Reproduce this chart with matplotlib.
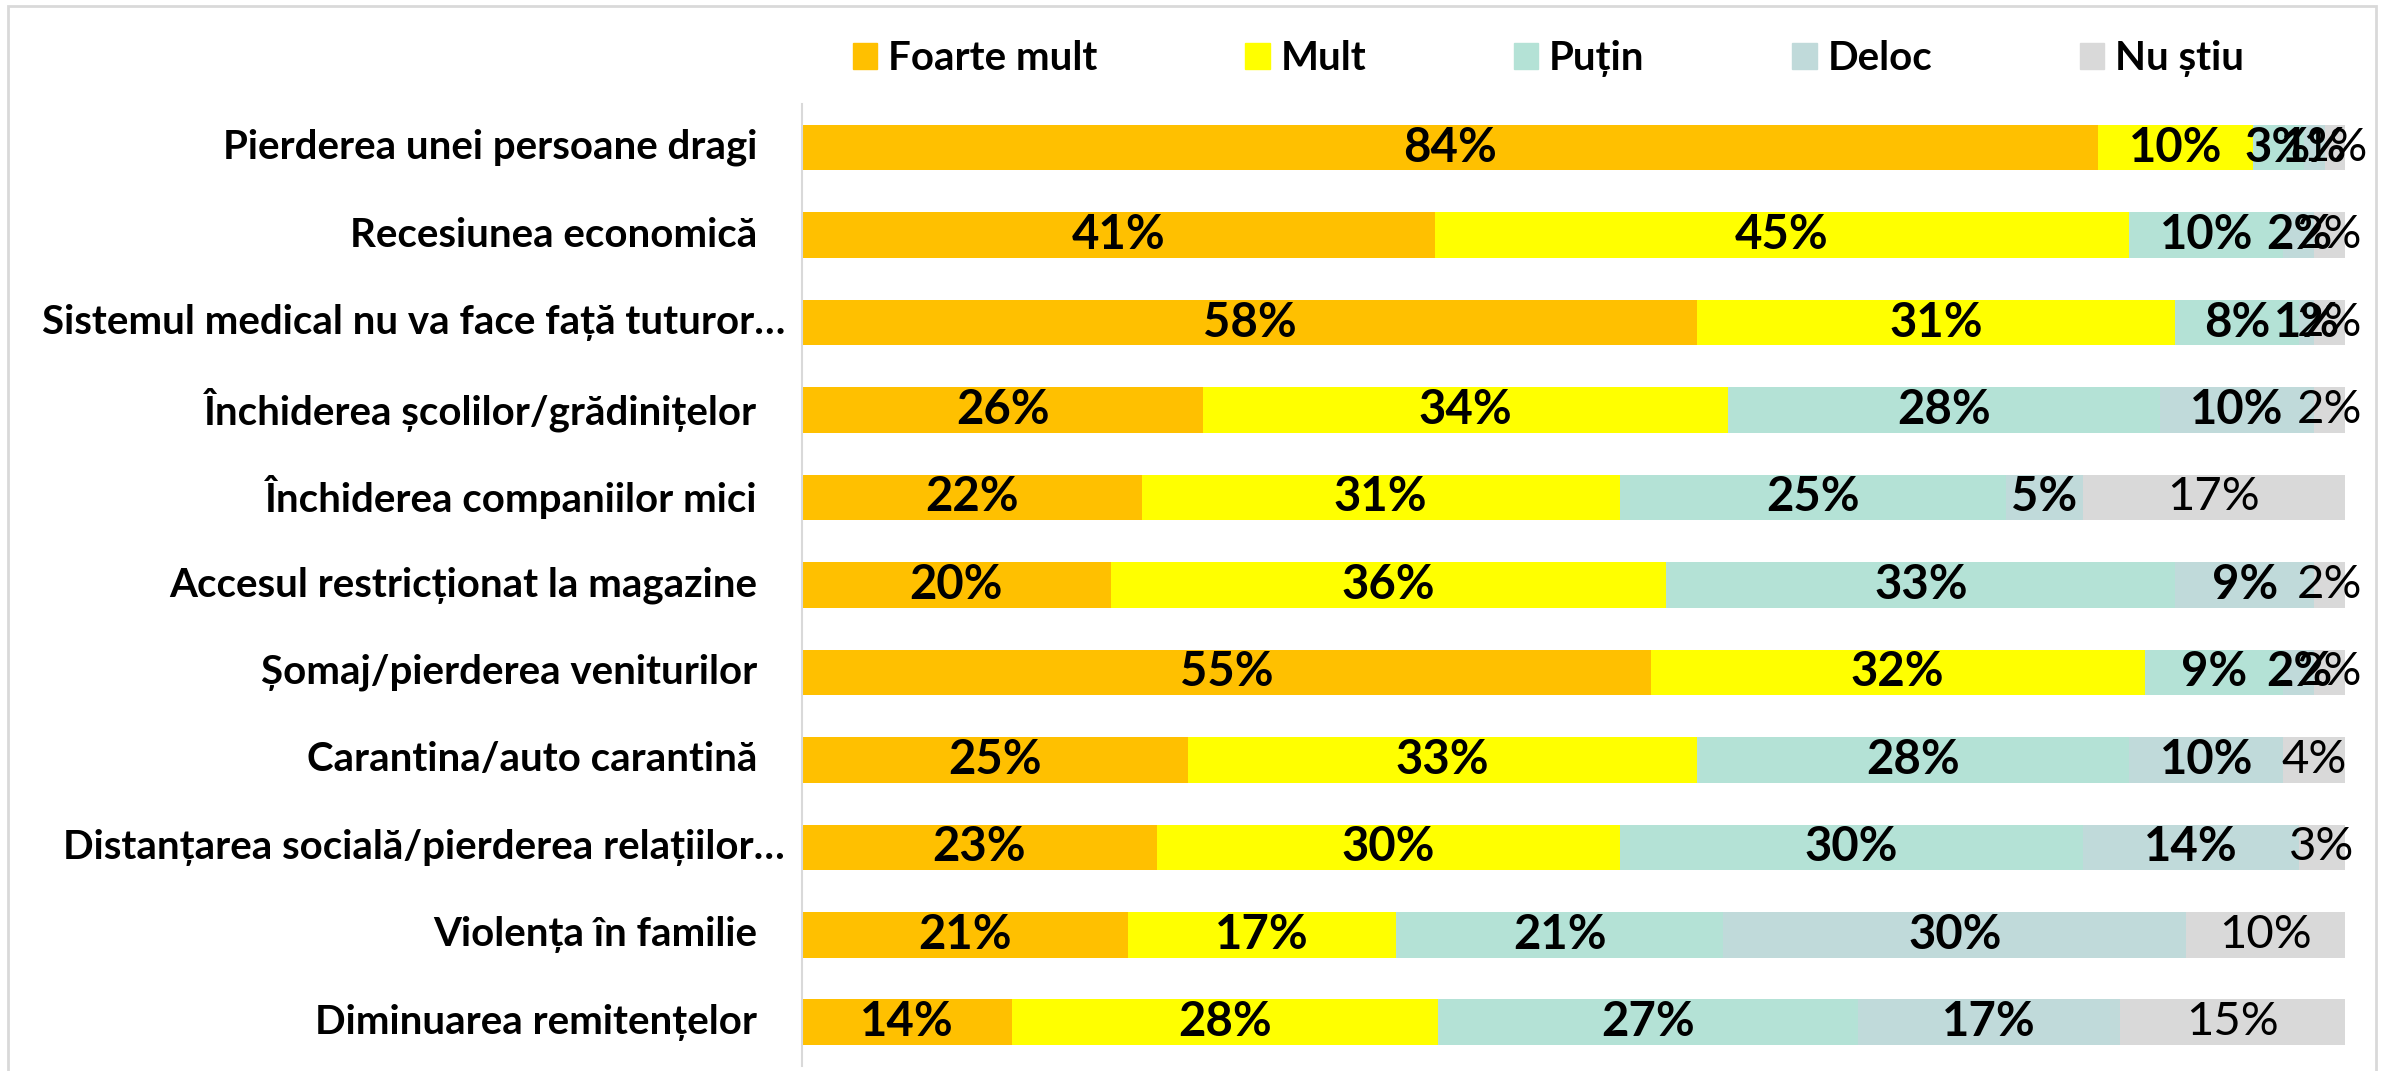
import matplotlib
matplotlib.use("Agg")
import matplotlib.pyplot as plt
import matplotlib.transforms as mtransforms
from matplotlib.patches import Patch, Rectangle
import numpy as np

categories = [
    "Pierderea unei persoane dragi",
    "Recesiunea economică",
    "Sistemul medical nu va face față tuturor…",
    "Închiderea școlilor/grădinițelor",
    "Închiderea companiilor mici",
    "Accesul restricționat la magazine",
    "Șomaj/pierderea veniturilor",
    "Carantina/auto carantină",
    "Distanțarea socială/pierderea relațiilor…",
    "Violența în familie",
    "Diminuarea remitențelor",
]
# shares in %, decimals estimated from bar widths where the rounded labels don't add to 100
foarte_mult = [84.0, 41, 58, 26, 22, 20, 55, 25, 23, 21.1, 13.6]
mult = [10.0, 45, 31, 34, 31, 36, 32, 33, 30, 17.4, 27.6]
putin = [3.3, 10, 8, 28, 25, 33, 9, 28, 30, 21.2, 27.2]
deloc = [1.4, 2, 1, 10, 5, 9, 2, 10, 14, 30.0, 17.0]
nu_stiu = [1.3, 2, 2, 2, 17, 2, 2, 4, 3, 10.3, 14.6]

series_names = ["Foarte mult", "Mult", "Puțin", "Deloc", "Nu știu"]
colors = ["#FFC000", "#FFFF00", "#B4E2D6", "#C0DADA", "#D9D9D9"]

plt.rcParams['font.family'] = ['Lato', 'DejaVu Sans']

fig = plt.figure(figsize=(23.85, 10.71), dpi=100)
ax = fig.add_axes([0.3363, 0.0047, 0.6470, 0.8983])

data = np.array([foarte_mult, mult, putin, deloc, nu_stiu], dtype=float)
# 100% stacked: every row fills the full width
shares = data / data.sum(axis=0) * 100
y = np.arange(len(categories))
left = np.zeros(len(categories))
for i, name in enumerate(series_names):
    bars = ax.barh(y, shares[i], left=left, height=0.52, color=colors[i], label=name)
    ax.bar_label(bars, labels=[f"{v:.0f}%" for v in data[i]], label_type='center',
                 fontsize=34, fontweight='bold' if i < 4 else 'normal', color='black')
    left += shares[i]

ax.set_xlim(0, 100)
ax.set_ylim(len(categories) - 0.5, -0.5)
ax.set_yticks(y)
ax.set_yticklabels([])
ax.tick_params(left=False, bottom=False, labelbottom=False)
for s in ['top', 'right', 'bottom']:
    ax.spines[s].set_visible(False)
ax.spines['left'].set_color('#D9D9D9')
ax.spines['left'].set_linewidth(1.5)

# category labels (truncated ones sit a little further right, like in Excel)
trans = mtransforms.blended_transform_factory(fig.transFigure, ax.transData)
for yi, cat in zip(y, categories):
    xpos = 0.3291 if cat.endswith("…") else 0.3176
    ax.text(xpos, yi, cat, transform=trans, ha='right', va='center',
            fontsize=29, fontweight='bold', color='black')

handles = [Patch(color=c) for c in colors]
fig.legend(handles, series_names, loc='center', bbox_to_anchor=(0.6493, 0.945),
           ncol=5, frameon=False, prop={'size': 29, 'weight': 'bold'},
           handlelength=0.6, handleheight=0.6, handletextpad=0.27, columnspacing=3.67)

# light grey frame round the chart
fig.add_artist(Rectangle((0.0034, -0.02), 0.9928, 1.0144, transform=fig.transFigure,
                         fill=False, edgecolor='#D9D9D9', linewidth=2))

fig.savefig('out.png', dpi=100)
